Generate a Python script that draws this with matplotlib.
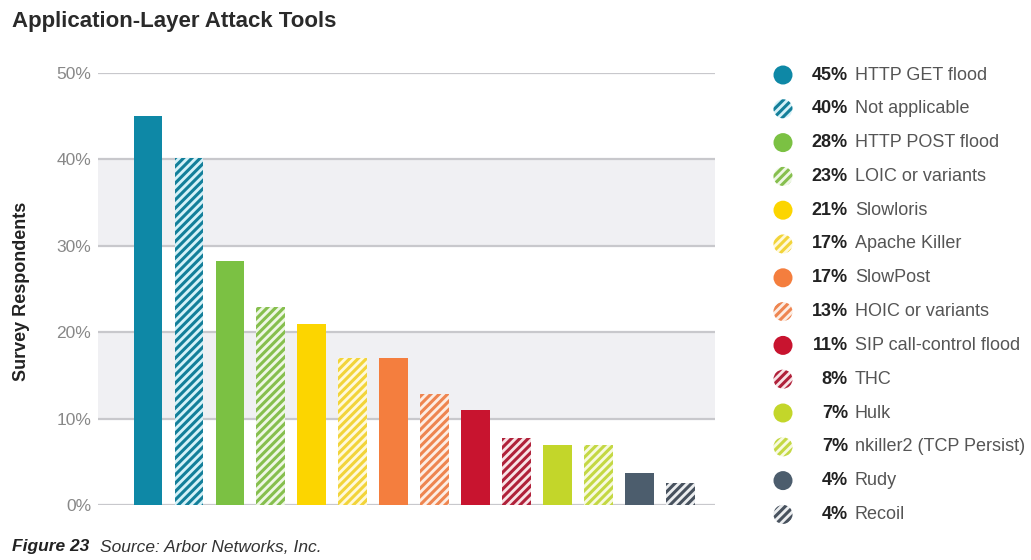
import numpy as np
import matplotlib.pyplot as plt
from matplotlib.patches import Circle

plt.rcParams['font.family'] = ['Liberation Sans', 'DejaVu Sans']
plt.rcParams['hatch.linewidth'] = 2.2

tools = ['HTTP GET flood', 'Not applicable', 'HTTP POST flood', 'LOIC or variants',
         'Slowloris', 'Apache Killer', 'SlowPost', 'HOIC or variants',
         'SIP call-control flood', 'THC', 'Hulk', 'nkiller2 (TCP Persist)',
         'Rudy', 'Recoil']
pct = [45, 40, 28, 23, 21, 17, 17, 13, 11, 8, 7, 7, 4, 4]          # legend values
heights = [45, 40.2, 28.2, 22.9, 21, 17, 17, 12.9, 11, 7.8, 6.9, 6.9, 3.7, 2.6]  # bar tops as drawn
colors = ['#0E88A6', '#137F9A', '#7BC143', '#86BF4E', '#FCD500', '#F2D43A',
          '#F47E3E', '#EE8550', '#C8142F', '#B0213A', '#C3D62A', '#C4D844',
          '#4C5D6D', '#48525E']
tints = ['#0E88A6', '#D4F1F8', '#7BC143', '#EEF7E4', '#FCD500', '#FFF9DA',
         '#F47E3E', '#FDEDE3', '#C8142F', '#F8E3E6', '#C3D62A', '#F7FAE0',
         '#4C5D6D', '#ECEEF0']
hatched = [False, True] * 7

fig = plt.figure(figsize=(10.31, 5.6), dpi=100)
ax = fig.add_axes([98/1031, 1 - 505/560, (715-98)/1031, (505-73)/560])

# shaded bands
for lo in [10, 30]:
    ax.axhspan(lo, lo + 10, color='#F0F0F3', zorder=0, lw=0)
for y in range(0, 51, 10):
    ax.axhline(y, color='#C8C8CC', lw=1.6, zorder=1)

x = np.arange(len(tools))
for i in range(len(tools)):
    if hatched[i]:
        ax.bar(x[i], heights[i], width=0.7, facecolor=tints[i], edgecolor=colors[i],
               hatch='////', linewidth=0, zorder=3)
    else:
        ax.bar(x[i], heights[i], width=0.7, color=colors[i], zorder=3)

ax.set_xlim(-1.22, 13.85)
ax.set_ylim(0, 50)
ax.set_xticks([])
ax.set_yticks(range(0, 51, 10))
ax.set_yticklabels([f'{v}%' for v in range(0, 51, 10)], fontsize=12.5, color='#888888')
ax.tick_params(axis='y', length=0, pad=5)
for s in ax.spines.values():
    s.set_visible(False)
ax.set_ylabel('Survey Respondents', fontsize=13, fontweight='bold', color='#222222')
ax.yaxis.set_label_coords(-68/617, 0.495)

# legend drawn in pixel coordinates
lax = fig.add_axes([763/1031, 0, (1031-763)/1031, 1])
lax.set_xlim(763, 1031)
lax.set_ylim(560, 0)
lax.axis('off')
for i in range(len(tools)):
    yy = 75 + i * 33.8
    if hatched[i]:
        lax.add_patch(Circle((783, yy), 9.5, facecolor=tints[i], edgecolor=colors[i],
                             hatch='////', linewidth=0))
    else:
        lax.add_patch(Circle((783, yy), 9.5, facecolor=colors[i], linewidth=0))
    lax.text(848, yy, f'{pct[i]}%', ha='right', va='center', fontsize=13,
             fontweight='bold', color='#222222')
    lax.text(855, yy, tools[i], ha='left', va='center', fontsize=13, color='#555555')

fig.text(12/1031, 1 - 22/560, 'Application-Layer Attack Tools', fontsize=16,
         fontweight='bold', color='#2A2A2A', va='center')
fig.text(12/1031, 1 - 547/560, 'Figure 23', fontsize=12.5, fontweight='bold',
         style='italic', color='#222222', va='center')
fig.text(100/1031, 1 - 547/560, 'Source: Arbor Networks, Inc.', fontsize=12.5,
         style='italic', color='#333333', va='center')

fig.savefig('out.png', dpi=100)
